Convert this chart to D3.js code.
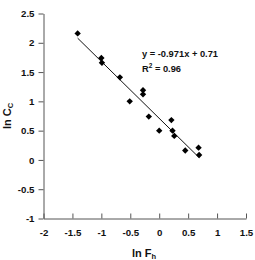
<!DOCTYPE html>
<html><head><meta charset="utf-8">
<script src="https://cdn.jsdelivr.net/npm/d3@7/dist/d3.min.js"></script>
<style>body{margin:0;background:#fff}svg{display:block}text{font-family:"Liberation Sans",Arial,sans-serif;font-weight:bold}</style>
</head><body>
<script>
const lnFh = [-1.41, -1.0, -0.99, -0.68, -0.51, -0.28, -0.28, -0.18, 0.21, 0.0, 0.23, 0.26, 0.45, 0.68, 0.69];
const lnCc = [2.16, 1.74, 1.66, 1.41, 1.0, 1.19, 1.12, 0.74, 0.68, 0.5, 0.5, 0.41, 0.16, 0.21, 0.085];
const xTicks = [-2, -1.5, -1, -0.5, 0, 0.5, 1, 1.5];
const yTicks = [-1, -0.5, 0, 0.5, 1, 1.5, 2, 2.5];
const slope = -0.971, intercept = 0.71;
const eqLines = ["y = -0.971x + 0.71", "R² = 0.96"];

const W = 255, H = 260;
const svg = d3.select("body").append("svg").attr("width", W).attr("height", H);
const x = d3.scaleLinear().domain([-2, 1.5]).range([43.5, 246]);
const y = d3.scaleLinear().domain([-1, 2.5]).range([218.5, 13.5]);
const axisColor = "#555";

// x axis (ticks point up)
const gx = svg.append("g").attr("transform", `translate(0,${y(-1)})`)
  .call(d3.axisBottom(x).tickValues(xTicks).tickSize(-5).tickSizeOuter(0).tickPadding(11).tickFormat(d => d));
gx.selectAll("path,line").attr("stroke", axisColor);
gx.selectAll("text").attr("font-size", 9.7).attr("fill", "#111");

// y axis
const gy = svg.append("g").attr("transform", `translate(${x(-2)},0)`)
  .call(d3.axisLeft(y).tickValues(yTicks).tickSize(5).tickSizeOuter(0).tickPadding(4).tickFormat(d => d));
gy.selectAll("path,line").attr("stroke", axisColor);
gy.selectAll("text").attr("font-size", 9.7).attr("fill", "#111");

// trend line
const x0 = d3.min(lnFh), x1 = d3.max(lnFh);
svg.append("line")
  .attr("x1", x(x0)).attr("y1", y(slope * x0 + intercept))
  .attr("x2", x(x1)).attr("y2", y(slope * x1 + intercept))
  .attr("stroke", "#111").attr("stroke-width", 1);

// points
svg.append("g").selectAll("path").data(lnFh.map((v, i) => [v, lnCc[i]])).join("path")
  .attr("d", d3.symbol(d3.symbolDiamond2, 26))
  .attr("transform", d => `translate(${x(d[0])},${y(d[1])})`)
  .attr("fill", "#000");

// equation
const eq = svg.append("text").attr("x", 142).attr("y", 57).attr("font-size", 9.3).attr("fill", "#111");
eq.text(eqLines[0]);
const r2 = svg.append("text").attr("x", 142).attr("y", 72).attr("font-size", 9.3).attr("fill", "#111");
r2.append("tspan").text("R");
r2.append("tspan").attr("font-size", 6.5).attr("dy", -4).text("2");
r2.append("tspan").attr("dy", 4).text(" = 0.96");

// axis titles
const xt = svg.append("text").attr("x", 144).attr("y", 257).attr("text-anchor", "middle").attr("font-size", 11).attr("fill", "#111");
xt.append("tspan").text("ln F");
xt.append("tspan").attr("font-size", 7.5).attr("dy", 2).text("h");

const yt = svg.append("text").attr("transform", `translate(11,${(y(-1)+y(2.5))/2}) rotate(-90)`)
  .attr("text-anchor", "middle").attr("font-size", 11).attr("fill", "#111");
yt.append("tspan").text("ln C");
yt.append("tspan").attr("font-size", 7.5).attr("dy", 2).text("C");
</script>
</body></html>
